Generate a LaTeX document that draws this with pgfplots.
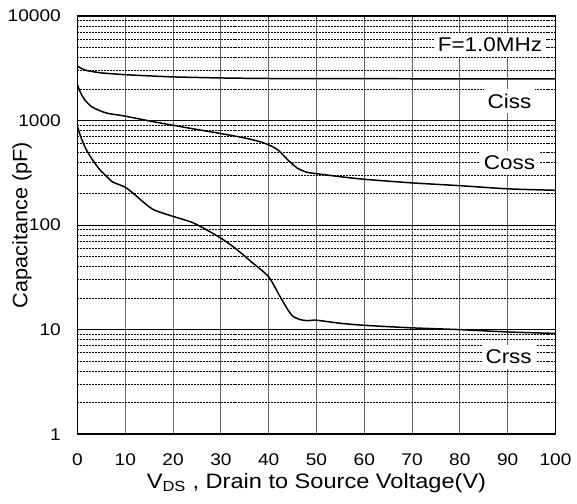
\documentclass[border=0pt]{standalone}
\usepackage{fontspec}
\setmainfont[FakeStretch=1.13]{Liberation Sans}
\newfontfamily\ylabfont[FakeStretch=1.04]{Liberation Sans}
\usepackage{pgfplots}
\pgfplotsset{compat=1.18}
\tikzset{note/.style={fill=white, inner xsep=4pt, inner ysep=5pt,
    font=\fontsize{20}{24}\selectfont}}

\begin{document}
\fontsize{17}{20}\selectfont
\begin{tikzpicture}
\begin{axis}[
    name=main,
    scale only axis,
    width=481pt, height=421pt,
    ymode=log,
    xmin=0, xmax=100, ymin=1, ymax=10000,
    xtick={0,10,...,100},
    ytick={1,10,100,1000,10000},
    yticklabels={1,10,100,1000,10000},
    minor ytick={2,3,4,5,6,7,8,9,20,30,40,50,60,70,80,90,200,300,400,500,600,700,800,900,2000,3000,4000,5000,6000,7000,8000,9000},
    major tick length=0pt, minor tick length=0pt,
    /pgf/number format/assume math mode=true,
    ticklabel style={font=\fontsize{17}{20}\selectfont},
    label style={font=\fontsize{21}{24}\selectfont},
    xmajorgrids, ymajorgrids, yminorgrids,
    x grid style={draw=black!60, line width=0.9pt},
    y grid style={draw=black, line width=0.7pt},
    minor grid style={draw=black!75, dash pattern=on 2pt off 1pt, line width=0.6pt},
    axis line style={line width=1.6pt},
    xlabel={V\textsubscript{DS} , Drain to Source Voltage(V)},
    ylabel={Capacitance (pF)},
    xticklabel style={yshift=-14pt},
    yticklabel style={xshift=-11pt},
    xlabel style={yshift=4pt},
    ylabel style={at={(axis description cs:-0.116,0.5)}, anchor=center,
        font=\ylabfont\fontsize{21}{24}\selectfont},
]
% Ciss
\addplot[black, line width=1.5pt, smooth, tension=0.4] coordinates {(0,3300) (1,3120) (2,3000) (5,2850) (10,2740) (15,2670) (20,2610) (30,2550) (40,2520) (50,2510) (100,2500)};
% Coss
\addplot[black, line width=1.5pt, smooth, tension=0.4] coordinates {(0,2200) (0.5,1900) (1.4,1600) (2.8,1370) (4.5,1250) (6.3,1170) (10,1100) (15,990) (20,900) (25,820) (30,750) (35,680) (38,630) (40,585) (42,520) (44,420) (46,350) (48,320) (50,310) (55,290) (60,274) (70,253) (80,238) (90,222) (100,215)};
% Crss
\addplot[black, line width=1.5pt, smooth, tension=0.4] coordinates {(0,870) (0.5,740) (1,640) (1.8,530) (3,430) (4.6,341) (6,295) (7.3,259) (10,230) (12,195) (15.7,142) (20,121) (24,106) (27,90) (30.2,74) (33,60) (36.5,44) (40,32) (42.3,21) (44,15.5) (45,13.5) (46.5,12.5) (48,12.2) (50,12.3) (55,11.5) (60,11) (70,10.4) (80,10) (90,9.5) (100,9.2)};
\node[note] at (axis cs:86.3,5300) {F=1.0MHz};
\node[note] at (axis cs:90.4,1528) {Ciss};
\node[note] at (axis cs:90.4,395) {Coss};
\node[note] at (axis cs:90.2,5.5) {Crss};
\end{axis}
% page margins around the axis, as in the reference
\path (main.south west) ++(-78pt,-70pt) coordinate (bbA);
\path (main.north east) ++(18pt,16pt) coordinate (bbB);
\end{tikzpicture}
\end{document}
